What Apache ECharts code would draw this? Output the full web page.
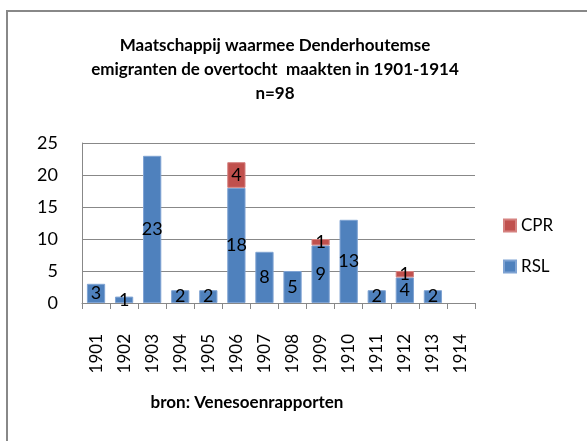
<!DOCTYPE html>
<html><head><meta charset="utf-8">
<script src="https://cdn.jsdelivr.net/npm/echarts@6/dist/echarts.min.js"></script>
<style>html,body{margin:0;padding:0;background:#fff}#c{width:587px;height:441px}</style>
</head><body><div id="c"></div>
<script>
const years = ['1901','1902','1903','1904','1905','1906','1907','1908','1909','1910','1911','1912','1913','1914'];
const rsl = [3,1,23,2,2,18,8,5,9,13,2,4,2,0];
const cpr = [0,0,0,0,0,4,0,0,1,0,0,1,0,0];
const yTicks = [0,5,10,15,20,25];
const titleText = 'Maatschappij waarmee Denderhoutemse\nemigranten de overtocht  maakten in 1901-1914\nn=98';
const sourceText = 'bron: Venesoenrapporten';

const FONT = 'Lato, "Open Sans", sans-serif';
const chart = echarts.init(document.getElementById('c'), null, {renderer:'canvas'});
const lbl = {show:true, position:'inside', color:'#000', fontSize:18, fontFamily:FONT,
  formatter: p => p.value ? String(p.value) : ''};
const nz = arr => arr.map(v => v ? v : null);
chart.setOption({
  animation:false,
  title:{text:titleText, left:270, top:29, textAlign:'center',
    textStyle:{fontFamily:FONT, fontWeight:'bold', fontSize:17, lineHeight:24, color:'#000'}},
  graphic:[
    {type:'rect', shape:{x:7,y:11,width:700,height:600}, style:{fill:'none', stroke:'#888', lineWidth:2}, silent:true},
    {type:'text', style:{text:sourceText, x:247, y:403, align:'center', verticalAlign:'middle',
      font:'bold 17px '+FONT, fill:'#000'}, silent:true}
  ],
  legend:{data:['CPR','RSL'], orient:'vertical', left:498, top:212, itemWidth:12, itemHeight:12, itemGap:24,
    icon:'rect', textStyle:{fontFamily:FONT, fontSize:17, color:'#000'}},
  grid:{left:82, right:112, top:143, bottom:138},
  xAxis:{type:'category', data:years,
    axisLine:{lineStyle:{color:'#888', width:1}},
    axisTick:{show:true, length:6, alignWithLabel:false, lineStyle:{color:'#888'}},
    axisLabel:{rotate:90, interval:0, margin:31, color:'#000', fontSize:17, fontFamily:FONT}},
  yAxis:{type:'value', min:0, max:25, interval:5,
    axisLine:{show:true, lineStyle:{color:'#888'}},
    axisTick:{show:false},
    splitLine:{lineStyle:{color:'#888', width:1}},
    axisLabel:{color:'#000', fontSize:18, fontFamily:FONT, margin:24,
      formatter: v => yTicks.includes(v) ? String(v) : ''}},
  series:[
    {name:'RSL', type:'bar', stack:'a', data:nz(rsl), barCategoryGap:'35%',
      itemStyle:{color:'#4F81BD', borderColor:'#7FA3D3', borderWidth:1}, label:lbl},
    {name:'CPR', type:'bar', stack:'a', data:nz(cpr),
      itemStyle:{color:'#C0504D', borderColor:'#D58280', borderWidth:1}, label:lbl}
  ]
});
</script></body></html>
